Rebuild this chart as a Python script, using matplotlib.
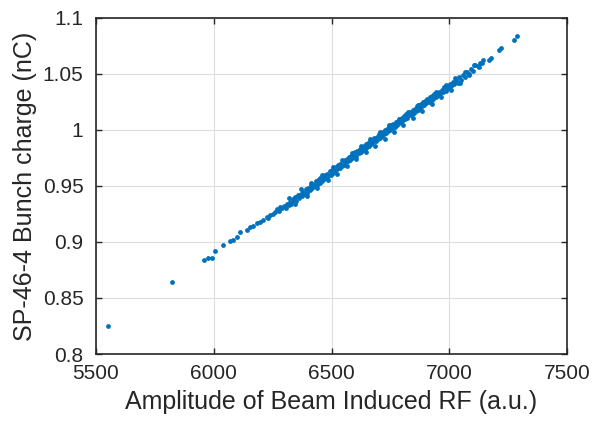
import numpy as np
import matplotlib
matplotlib.use('Agg')
import matplotlib.pyplot as plt

plt.rcParams['font.family'] = ['Liberation Sans', 'DejaVu Sans']

# amplitude of beam induced RF (a.u.) and bunch charge (nC)
amp = [5552, 5824, 5959, 5974, 5994, 6004, 6039, 6069, 6080, 6097, 6111, 6140, 6154, 6165,
       6182, 6196, 6210, 6225, 6232, 6239, 6250, 6258, 6267, 6275, 6283, 6290,
       6298, 6305, 6311, 6318, 6322, 6329, 6335, 6340, 6347, 6351, 6358, 6363, 6369, 6374,
       6380, 6386, 6390, 6396, 6402, 6407, 6412, 6418, 6423, 6428, 6433, 6438, 6444, 6449,
       6453, 6458, 6463, 6468, 6473, 6478, 6482, 6487, 6492, 6497, 6502, 6506, 6511, 6515,
       6520, 6525, 6529, 6534, 6538, 6543, 6547, 6552, 6556, 6561, 6565, 6570, 6574, 6579,
       6583, 6588, 6592, 6597, 6601, 6606, 6610, 6615, 6619, 6624, 6628, 6633, 6637, 6642,
       6646, 6651, 6655, 6660, 6664, 6669, 6673, 6678, 6682, 6687, 6691, 6696, 6700, 6705,
       6709, 6714, 6718, 6723, 6727, 6732, 6736, 6741, 6745, 6750, 6754, 6759, 6763, 6768,
       6772, 6777, 6781, 6786, 6790, 6795, 6799, 6804, 6808, 6813, 6817, 6822, 6826, 6831,
       6835, 6840, 6844, 6849, 6853, 6858, 6862, 6867, 6871, 6876, 6880, 6885, 6889, 6894,
       6898, 6903, 6907, 6912, 6917, 6922, 6927, 6932, 6937, 6942, 6947, 6952, 6957, 6962,
       6967, 6972, 6978, 6984, 6990, 6996, 7002, 7008, 7015, 7021, 7028, 7035, 7042, 7049,
       7057, 7065, 7073, 7082, 7090, 7100, 7110, 7120, 7130, 7138, 7145,
       7170, 7176, 7211, 7218, 7275, 7289,
       6320, 6345, 6372, 6395, 6415, 6440, 6460, 6485, 6505, 6525, 6545, 6565, 6585, 6605,
       6625, 6645, 6665, 6685, 6705, 6725, 6745, 6765, 6785, 6805, 6825, 6845, 6865, 6885,
       6905, 6925, 6945, 6965, 6985, 7005, 7025, 7045, 7065, 7085, 7105, 7125]
charge = [0.825, 0.864, 0.884, 0.886, 0.886, 0.892, 0.897, 0.901, 0.902, 0.904, 0.909, 0.911, 0.913, 0.914,
          0.917, 0.918, 0.920, 0.922, 0.921, 0.924, 0.925, 0.927, 0.929, 0.928, 0.931, 0.930,
          0.932, 0.930, 0.934, 0.933, 0.936, 0.934, 0.938, 0.936, 0.940, 0.937, 0.942, 0.939, 0.943, 0.941,
          0.945, 0.943, 0.947, 0.944, 0.948, 0.946, 0.951, 0.948, 0.952, 0.950, 0.954, 0.951, 0.955, 0.953,
          0.957, 0.954, 0.958, 0.956, 0.960, 0.957, 0.961, 0.959, 0.963, 0.960, 0.964, 0.962, 0.966, 0.963,
          0.967, 0.965, 0.969, 0.966, 0.970, 0.968, 0.972, 0.969, 0.973, 0.971, 0.974, 0.972, 0.976, 0.973,
          0.977, 0.975, 0.979, 0.976, 0.980, 0.977, 0.981, 0.979, 0.983, 0.980, 0.984, 0.982, 0.986, 0.983,
          0.987, 0.985, 0.988, 0.986, 0.990, 0.987, 0.991, 0.989, 0.993, 0.990, 0.994, 0.992, 0.996, 0.993,
          0.997, 0.995, 0.998, 0.996, 1.000, 0.997, 1.001, 0.999, 1.003, 1.000, 1.004, 1.002, 1.005, 1.003,
          1.007, 1.004, 1.008, 1.006, 1.010, 1.007, 1.011, 1.009, 1.012, 1.010, 1.014, 1.011, 1.015, 1.013,
          1.016, 1.014, 1.018, 1.015, 1.019, 1.017, 1.021, 1.018, 1.022, 1.020, 1.023, 1.021, 1.025, 1.022,
          1.026, 1.024, 1.027, 1.025, 1.029, 1.026, 1.030, 1.028, 1.032, 1.029, 1.033, 1.031, 1.034, 1.032,
          1.036, 1.034, 1.038, 1.035, 1.039, 1.037, 1.041, 1.039, 1.043, 1.041, 1.045, 1.042, 1.047, 1.045,
          1.049, 1.047, 1.052, 1.050, 1.054, 1.053, 1.058, 1.057, 1.060, 1.060, 1.062,
          1.062, 1.064, 1.071, 1.073, 1.080, 1.084,
          0.939, 0.934, 0.947, 0.941, 0.953, 0.948, 0.960, 0.955, 0.967, 0.961, 0.973, 0.968, 0.979, 0.974,
          0.986, 0.980, 0.992, 0.986, 0.998, 0.992, 1.004, 0.998, 1.010, 1.004, 1.016, 1.011, 1.022, 1.017,
          1.028, 1.023, 1.034, 1.029, 1.040, 1.036, 1.046, 1.042, 1.052, 1.049, 1.058, 1.056]

xticks = [5500, 6000, 6500, 7000, 7500]
yticks = [0.8, 0.85, 0.9, 0.95, 1.0, 1.05, 1.1]
ytick_labels = ['0.8', '0.85', '0.9', '0.95', '1', '1.05', '1.1']

txt = '#262626'
fig = plt.figure(figsize=(5.92, 4.26), dpi=100)
ax = fig.add_axes([0.162, 0.169, 0.796, 0.789])
ax.scatter(amp, charge, s=12, color='#0072BD', linewidths=0)

ax.set_xlim(5500, 7500)
ax.set_ylim(0.8, 1.1)
ax.set_xticks(xticks)
ax.set_yticks(yticks)
ax.set_yticklabels(ytick_labels)
ax.grid(True, color='#dedede', linewidth=0.8)
ax.set_axisbelow(True)
ax.tick_params(direction='in', length=4, width=1, top=True, right=True,
               labelsize=15, colors=txt)
ax.tick_params(axis='x', pad=7)
ax.tick_params(axis='y', pad=9)
for s in ax.spines.values():
    s.set_color(txt)
    s.set_linewidth(1.2)
ax.set_xlabel('Amplitude of Beam Induced RF (a.u.)', fontsize=18, color=txt, labelpad=5)
ax.set_ylabel('SP-46-4 Bunch charge (nC)', fontsize=18, color=txt, labelpad=4)

fig.savefig('out.png', dpi=100)
